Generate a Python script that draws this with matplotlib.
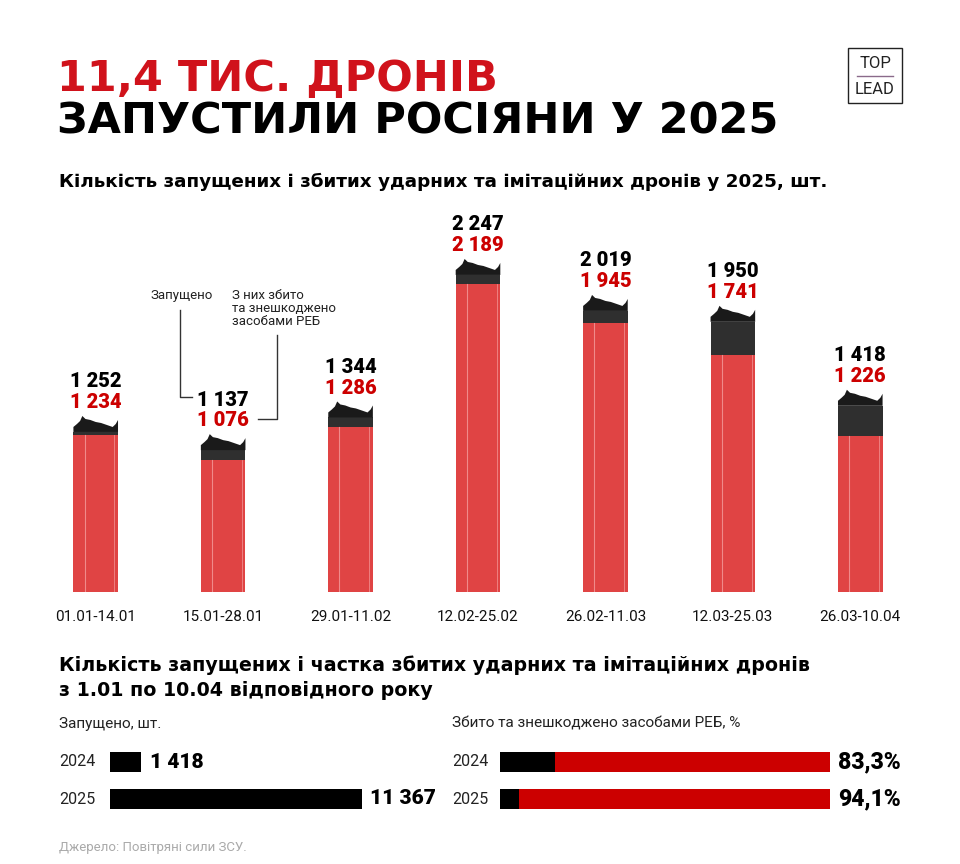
import matplotlib
matplotlib.use("Agg")
import matplotlib.pyplot as plt
from matplotlib.patches import Rectangle, Polygon
from matplotlib.lines import Line2D
import matplotlib.transforms as mtransforms

# --- дані ---------------------------------------------------------------
periods = ["01.01-14.01", "15.01-28.01", "29.01-11.02", "12.02-25.02",
           "26.02-11.03", "12.03-25.03", "26.03-10.04"]
launched = [1252, 1137, 1344, 2247, 2019, 1950, 1418]
shot_down = [1234, 1076, 1286, 2189, 1945, 1741, 1226]

years = ["2024", "2025"]
launched_total = [1418, 11367]
shot_pct = [83.3, 94.1]

RED_TITLE = "#d0121b"
RED_BAR = "#e04444"
RED_DARK = "#cc0000"
DARK = "#2f2f2f"
FONT = ["Roboto", "DejaVu Sans"]
WIDE = ["DejaVu Sans"]

plt.rcParams["font.family"] = FONT

W, H = 960, 864
fig = plt.figure(figsize=(W / 100, H / 100), dpi=100)
fig.patch.set_facecolor("white")


def fx(x):
    return x / W


def fy(y):
    return 1 - y / H


def fmt(v):
    return f"{v:,}".replace(",", " ")


# --- заголовки ----------------------------------------------------------
fig.text(fx(57), fy(79), "11,4 ТИС. ДРОНІВ", color=RED_TITLE, fontsize=31,
         fontweight="bold", family=WIDE, va="center", ha="left")
fig.text(fx(57), fy(122), "ЗАПУСТИЛИ РОСІЯНИ У 2025", color="black", fontsize=31,
         fontweight="bold", family=WIDE, va="center", ha="left")
fig.text(fx(59), fy(182),
         "Кількість запущених і збитих ударних та імітаційних дронів у 2025, шт.",
         fontsize=13.2, fontweight="bold", family=WIDE, va="center", ha="left")

# логотип
fig.patches.append(Rectangle((fx(848), fy(103)), fx(54), 55 / H, transform=fig.transFigure,
                             fill=False, edgecolor="#222222", lw=1.0))
fig.text(fx(875), fy(63), "TOP", fontsize=12, ha="center", va="center", color="#222222")
fig.text(fx(875), fy(89), "LEAD", fontsize=12, ha="center", va="center", color="#222222")
fig.lines.append(Line2D([fx(857), fx(893)], [fy(76), fy(76)], transform=fig.transFigure,
                        color="#8a6a8a", lw=1.0))

# --- верхня діаграма ----------------------------------------------------
ax = fig.add_axes([fx(32), fy(592), fx(892), 392 / H])
x = list(range(len(periods)))
bw = 0.35
ax.bar(x, launched, width=bw, color=DARK, zorder=2)
ax.bar(x, shot_down, width=bw, color=RED_BAR, zorder=3)

# "уламки" на верхівці стовпчика (декор), висота в пікселях -> одиниці даних
ax.set_xlim(-0.5, 6.5)
ax.set_ylim(238, 2722)
px_unit = (2722 - 238) / 392
profile = [(0, 0), (0, 5), (0.08, 8), (0.15, 11), (0.2, 16), (0.27, 13), (0.38, 12),
           (0.5, 10), (0.62, 9), (0.75, 7), (0.88, 5), (0.95, 8), (1.0, 12), (1.0, 0)]
for xi, l in zip(x, launched):
    pts = [(xi - bw / 2 + f * bw, l + h * px_unit) for f, h in profile]
    ax.add_patch(Polygon(pts, closed=True, color="#1a1a1a", zorder=2, lw=0))

# світлі смужки на стовпчиках
for xi, s in zip(x, shot_down):
    ax.plot([xi - bw * 0.25, xi - bw * 0.25], [0, s], color="#f08a8a", lw=0.8, zorder=4)
    ax.plot([xi + bw * 0.42, xi + bw * 0.42], [0, s], color="#f08a8a", lw=0.6, zorder=4)

for xi, l, s in zip(x, launched, shot_down):
    ax.annotate(fmt(l), (xi, l), xytext=(0, 36), textcoords="offset points",
                ha="center", va="center", fontsize=14.5, fontweight="black", color="black")
    ax.annotate(fmt(s), (xi, l), xytext=(0, 21), textcoords="offset points",
                ha="center", va="center", fontsize=14.5, fontweight="black", color=RED_DARK)

ax.set_xticks(x)
ax.set_xticklabels(periods, fontsize=11, color="#111111")
ax.tick_params(axis="x", length=0, pad=13)
ax.set_yticks([])
for sp in ax.spines.values():
    sp.set_visible(False)
ax.patch.set_alpha(0)

# виноски
fig.text(fx(150), fy(296), "Запущено", fontsize=9.5,
         ha="left", va="center", color="#222222")
fig.text(fx(232), fy(289), "З них збито\nта знешкоджено\nзасобами РЕБ", fontsize=9.5,
         ha="left", va="top", color="#222222", linespacing=1.0)
fig.lines.append(Line2D([fx(180), fx(180), fx(192)], [fy(310), fy(397), fy(397)],
                        transform=fig.transFigure, color="#333333", lw=1.0))
fig.lines.append(Line2D([fx(277), fx(277), fx(258)], [fy(335), fy(419), fy(419)],
                        transform=fig.transFigure, color="#333333", lw=1.0))

# --- нижній блок --------------------------------------------------------
fig.text(fx(59), fy(665),
         "Кількість запущених і частка збитих ударних та імітаційних дронів",
         fontsize=13.7, fontweight="bold", family=WIDE, va="center", ha="left")
fig.text(fx(59), fy(690), "з 1.01 по 10.04 відповідного року",
         fontsize=13.7, fontweight="bold", family=WIDE, va="center", ha="left")
fig.text(fx(59), fy(724), "Запущено, шт.", fontsize=11,
         va="center", ha="left", color="#222222")
fig.text(fx(452), fy(724), "Збито та знешкоджено засобами РЕБ, %", fontsize=11,
         va="center", ha="left", color="#222222")

# ліва: кількість запущених
axl = fig.add_axes([fx(110), fy(817.5), fx(340), 74 / H])
yy = [0, 1]
axl.barh(yy, launched_total, height=0.54, color="black")
axl.set_xlim(0, 340 / 252 * 11367)
axl.set_ylim(1.5, -0.5)
axl.axis("off")
for yi, v in zip(yy, launched_total):
    axl.annotate(fmt(v), (v, yi), xytext=(6, 0), textcoords="offset points",
                 ha="left", va="center", fontsize=15, fontweight="black")
tl = mtransforms.blended_transform_factory(fig.transFigure, axl.transData)
for yi, yr in zip(yy, years):
    axl.text(fx(59), yi, yr, transform=tl, fontsize=11.5,
             ha="left", va="center", color="#222222")

# права: частка збитих
axr = fig.add_axes([fx(500), fy(817.5), fx(330), 74 / H])
rest = [100 - p for p in shot_pct]
axr.barh(yy, rest, height=0.54, color="black")
axr.barh(yy, shot_pct, left=rest, height=0.54, color=RED_DARK)
axr.set_xlim(0, 100)
axr.set_ylim(1.5, -0.5)
axr.axis("off")
for yi, p in zip(yy, shot_pct):
    axr.annotate(f"{p:.1f}%".replace(".", ","), (100, yi), xytext=(6, 0),
                 textcoords="offset points", ha="left", va="center",
                 fontsize=16.5, fontweight="black")
tr = mtransforms.blended_transform_factory(fig.transFigure, axr.transData)
for yi, yr in zip(yy, years):
    axr.text(fx(452), yi, yr, transform=tr, fontsize=11.5,
             ha="left", va="center", color="#222222")

fig.text(fx(59), fy(847), "Джерело: Повітряні сили ЗСУ.", fontsize=9.5,
         va="center", ha="left", color="#aaaaaa")

fig.savefig("out.png", dpi=100, facecolor="white")
